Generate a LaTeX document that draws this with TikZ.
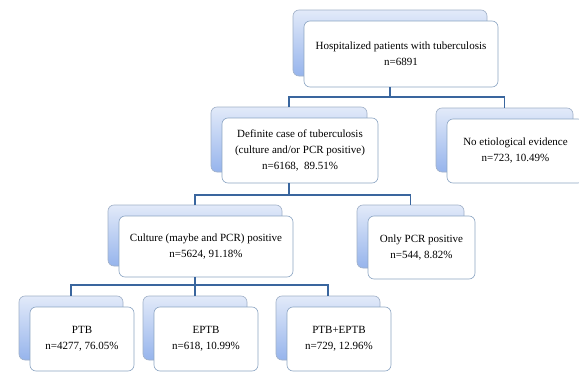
\documentclass[tikz,border=0pt]{standalone}
\usepackage{fontspec}
\setmainfont{Liberation Serif}
\definecolor{linkc}{RGB}{58,102,158}
\definecolor{backline}{RGB}{160,176,200}
\definecolor{frontline}{RGB}{140,165,195}
\definecolor{bluetop}{RGB}{226,234,249}
\definecolor{bluebot}{RGB}{150,180,236}
\newcommand\dbox[6]{%
  \node[backbox, minimum width={(#4-#2)*1pt}, minimum height={(#5-#3)*1pt}, anchor=north west] (#1b) at (#2,#3) {};
  \node[frontbox, minimum width={(#4-#2)*1pt}, minimum height={(#5-#3)*1pt}, anchor=north west] (#1f) at (#2+11,#3+11) {};
  \node[lbl] (#1t) at (#1f.center) {#6};
}
\begin{document}
\begin{tikzpicture}[x=1pt,y=-1pt,
  backbox/.style={draw=backline, rounded corners=6pt, top color=bluetop, bottom color=bluebot, line width=0.6pt, inner sep=0pt, outer sep=0pt},
  frontbox/.style={draw=frontline, fill=white, rounded corners=6pt, line width=0.6pt, inner sep=0pt, outer sep=0pt},
  lbl/.style={font=\fontsize{11}{16}\selectfont, align=center, inner sep=0pt},
  link/.style={draw=linkc, line width=1.6pt}]
\useasboundingbox (0,0) rectangle (579,372);
\clip (0,0) rectangle (579,372);
\fill[white] (0,0) rectangle (579,372);
\coordinate (bar1) at (0,97);
\coordinate (bar2) at (0,195);
\coordinate (bar3) at (0,285);
% connectors (behind boxes)
\dbox{top}{293}{10}{487}{76}{Hospitalized patients with tuberculosis\\n=6891}
\draw[link] (topb.south |- topf.south) -- (topb.south |- bar1);
\draw[link] (topb.south |- bar1) -- (bar1 -| 288,0);
\dbox{def}{211}{107}{367}{172}{Definite case of tuberculosis\\(culture and/or PCR positive)\\n=6168,\ \ 89.51\%}
\dbox{noe}{436}{108}{573}{172}{No etiological evidence\\n=723, 10.49\%}
\draw[link] (defb.north) |- (bar1 -| noeb.north) -- (noeb.north);
\draw[link] (defb.south |- deff.south) -- (defb.south |- bar2);
\dbox{cul}{108}{205}{282}{266}{Culture (maybe and PCR) positive\\n=5624, 91.18\%}
\dbox{onl}{357}{205}{464}{268}{Only PCR positive\\n=544, 8.82\%}
\draw[link] (culb.north) |- (bar2 -| onlb.north) -- (onlb.north);
\draw[link] (culb.south |- culf.south) -- (culb.south |- bar3);
\dbox{ptb}{19}{296}{123}{360}{PTB\\n=4277, 76.05\%}
\dbox{ept}{143}{296}{247}{360}{EPTB\\n=618, 10.99\%}
\dbox{both}{276}{296}{380}{360}{PTB+EPTB\\n=729, 12.96\%}
\draw[link] (ptbb.north) |- (bar3 -| bothb.north) -- (bothb.north);
\draw[link] (eptb.north) -- (eptb.north |- bar3);
\end{tikzpicture}
\end{document}
